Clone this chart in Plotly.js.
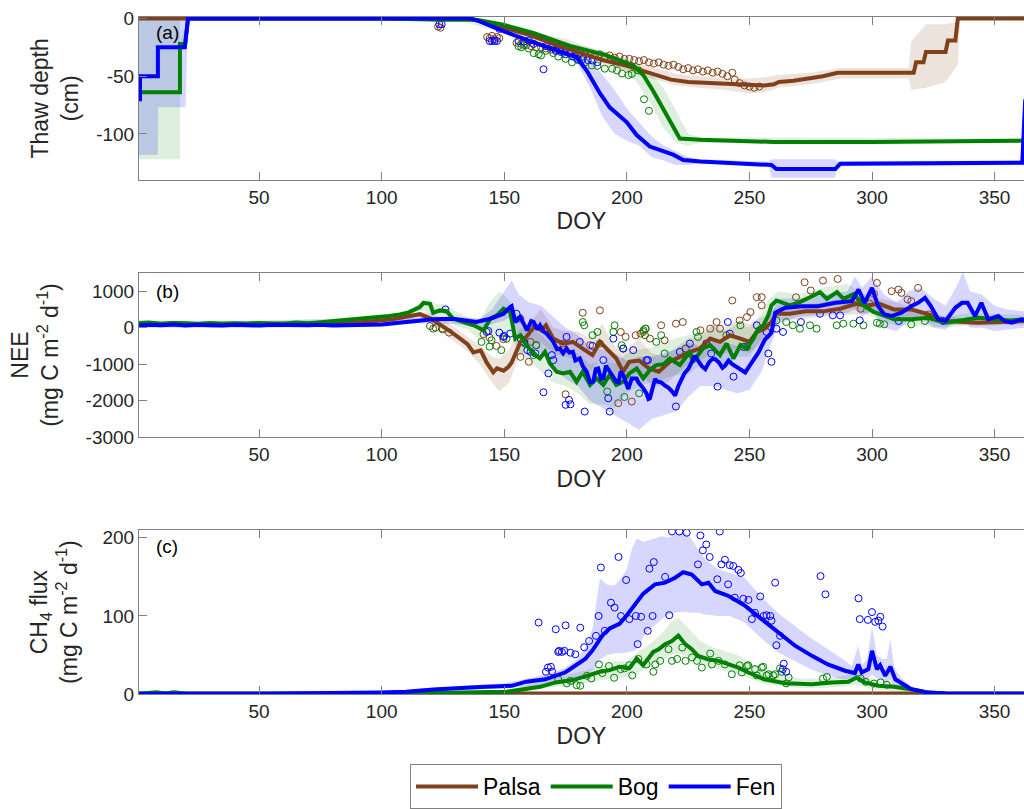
<!DOCTYPE html>
<html>
<head>
<meta charset="utf-8">
<script src="https://cdn.plot.ly/plotly-3.0.1.min.js"></script>
<style>html,body{margin:0;padding:0;background:#fff;}#chart{width:1024px;height:809px;}</style>
</head>
<body>
<div id="chart"></div>
<script>
// ---------------- Panel (a): thaw depth (cm) ----------------
const thawPalsaX = [1, 20, 120, 136, 150, 160, 170, 180, 190, 200, 210, 218, 225, 235, 245, 256, 260, 262, 268, 275, 280, 286, 300, 317, 318, 321, 322, 330, 331, 334, 335, 362];
const thawPalsaY = [0, 0, 0, 0, -8, -14, -22, -29, -36, -41, -48, -53, -55, -56, -57, -58, -57, -55, -54, -52, -50, -47, -47, -47, -38, -38, -29, -29, -19, -19, 0, 0];
const thawBogX = [1, 17.7, 17.7, 19.8, 21, 100, 125, 138.7, 149.6, 161.8, 176.8, 191.7, 202.6, 206.7, 210.8, 216.2, 221.6, 230, 260, 300, 362];
const thawBogY = [-64, -64, -22, -22, 0, 0, -1, -1, -5.4, -12.4, -23.7, -32, -40.7, -49, -63, -83, -104, -105, -107, -107, -106];
const thawFenX = [1, 1.4, 1.4, 8.7, 8.7, 19.7, 21, 136, 140, 149.6, 160.5, 170, 179.5, 183.6, 189, 193, 200, 204, 209.4, 218.9, 223, 230, 259, 261, 285, 287, 361.3, 362.5];
const thawFenY = [-70, -70, -50, -50, -25, -25, 0, 0, -2.5, -11, -19.5, -26.5, -33.6, -45, -64.7, -77, -90, -101, -111, -118, -122.6, -124, -127, -130.5, -130.5, -126, -125, -70];

const thawBandPalsaX = [1, 135, 150, 175, 200, 220, 240, 250, 256, 262, 275, 287, 300, 315, 316, 322, 330, 335, 336, 362];
const thawBandPalsaHi = [0, 0, -5, -18, -36, -48, -52, -52, -51, -49, -47, -43, -43, -43, -20, -5, -5, -3, 0, 0];
const thawBandPalsaLo = [0, 0, -10, -28, -46, -58, -62, -65, -64, -60, -57, -52, -52, -52, -62, -60, -55, -40, 0, 0];
const thawBandBogX = [1, 17.7, 17.8, 21, 130, 190, 200, 205, 210, 215, 220, 225, 230, 362];
const thawBandBogHi = [0, 0, -20, 0, 0, -28, -35, -40, -48, -60, -80, -100, -103, -104];
const thawBandBogLo = [-122, -122, -28, 0, -1, -36, -45, -58, -75, -95, -108, -110, -108, -108];
const thawBandFenX = [1, 8.7, 8.8, 20, 21, 135, 175, 180, 185, 190, 195, 200, 205, 210, 215, 220, 225, 230, 258, 259, 285, 286, 362];
const thawBandFenHi = [0, 0, 0, 0, 0, 0, -28, -30, -35, -48, -62, -78, -90, -102, -110, -115, -120, -122, -124, -122, -122, -124, -123];
const thawBandFenLo = [-118, -118, -77, -77, 0, 0, -33, -40, -60, -85, -100, -106, -110, -120, -123, -127, -127, -126, -128, -138, -138, -128, -127];

const thawObsPalsaX = [123, 124, 143, 144, 145, 146, 147, 148, 155, 157, 159, 161, 163, 165, 167, 169, 171, 173, 175, 177, 179, 181, 183, 185, 187, 189, 191, 193, 195, 197, 199, 201, 203, 205, 207, 209, 211, 213, 215, 217, 219, 221, 223, 225, 227, 229, 231, 233, 235, 237, 239, 241, 243, 244, 246, 248, 250, 252, 254];
const thawObsPalsaY = [-7, -8, -16, -17, -15, -18, -16, -17, -21, -22, -23, -24, -25, -25, -26, -27, -27, -28, -28, -29, -29, -30, -31, -31, -32, -31, -33, -32, -34, -33, -35, -35, -36, -37, -36, -38, -39, -38, -40, -41, -40, -42, -44, -43, -45, -44, -46, -45, -47, -46, -48, -50, -47, -53, -56, -58, -59, -60, -59];
const thawObsBogX = [155.8, 157, 158, 160, 162, 164, 165, 167, 170, 172, 175, 177.6, 180, 183, 185.7, 188, 191, 194, 196, 198, 200.7, 202, 204.7, 207, 209];
const thawObsBogY = [-24, -25, -23, -26, -30, -31, -32, -28, -30, -33, -35, -38, -36, -38, -40.7, -41, -43.5, -43.5, -45, -47.7, -49, -48, -45, -70, -80];
const thawObsFenX = [123.5, 124.5, 144, 145, 146, 147, 148, 155.8, 158, 160, 162, 166, 167, 169.4, 171, 173, 175, 178, 180, 182, 184, 186, 188];
const thawObsFenY = [-5, -5, -19.5, -19.5, -19.5, -19.5, -9, -19.5, -20, -19, -22, -44, -24, -25, -28, -29, -31, -33, -35, -35, -36, -36.4, -37.9];

// ---------------- Panel (b): NEE (mg C m-2 d-1) ----------------
const neePalsaX = [1, 5, 10, 15, 20, 25, 30, 35, 40, 45, 50, 55, 60, 65, 70, 75, 80, 85, 90, 95, 100, 105, 110, 115.6, 120, 124, 128, 132, 135, 137.4, 140.4, 142.8, 145.5, 147, 149.7, 151.7, 153, 156.6, 159, 162.6, 165, 167, 170, 174, 178, 182, 186, 189, 191.6, 195.7, 198.5, 201, 205, 209, 213, 217.5, 221.6, 225.7, 229.8, 234, 238, 242, 246.3, 250, 253, 256.3, 259, 261, 266.5, 273, 280, 287, 293.6, 297.7, 303, 309, 316, 323, 329.8, 336, 343, 350, 356, 362];
const neePalsaY = [100, 110, 90, 120, 100, 95, 110, 90, 100, 105, 95, 100, 110, 95, 100, 110, 105, 120, 140, 160, 200, 240, 300, 370, 250, 80, -100, -300, -450, -680, -620, -954, -1226, -1117, -1180, -1071, -954, -390, -253, 65, -71, 65, -300, -436, -390, -572, -752, -390, -572, -845, -1207, -935, -900, -1117, -1207, -935, -800, -663, -572, -300, -390, -207, -300, -390, -117, -27, 155, 381, 381, 447, 447, 518, 654, 610, 654, 500, 500, 365, 183, 160, 136, 150, 170, 183];
const neeBogX = [1, 5, 10, 15, 20, 25, 30, 35, 40, 45, 50, 55, 60, 65, 70, 75, 80, 85, 90, 95, 99, 103, 107.4, 111, 115.6, 117, 119.7, 121, 123.8, 126.5, 129.2, 133.4, 137.5, 141.6, 144.3, 147, 149.7, 152.4, 154.5, 156.6, 159, 162, 164.5, 166.6, 168.6, 171.4, 174, 176.8, 179.5, 182, 185, 187.6, 190.4, 193, 195.7, 198.5, 201, 204, 206.7, 209.4, 212, 215, 217.5, 221.6, 225.7, 227, 231, 234, 238, 240.7, 243.5, 246.3, 249, 251.6, 253.6, 255.7, 257.7, 259, 261, 266.5, 270.6, 274.7, 278.8, 281.6, 285.7, 288.4, 292.6, 296.6, 300.8, 303, 309, 316, 323, 329.8, 336, 343.4, 350, 356, 362];
const neeBogY = [130, 140, 110, 130, 120, 100, 130, 110, 120, 110, 130, 120, 110, 140, 120, 150, 180, 200, 220, 250, 273, 320, 365, 420, 564, 680, 654, 410, 474, 455, 245, 155, 65, -71, 245, 338, 518, 428, -300, -207, -480, -708, -845, -662, -980, -1207, -1253, -1207, -1480, -1207, -1570, -1390, -1570, -1297, -1570, -1480, -1253, -1117, -1390, -1160, -1025, -1000, -845, -1025, -662, -935, -572, -480, -752, -436, -845, -480, -572, -300, -27, 65, 338, 610, 746, 610, 700, 836, 973, 790, 973, 790, 926, 610, 428, 381, 229, 229, 273, 136, 200, 273, 229, 200, 229];
const neeFenX = [1, 5, 10, 15, 20, 25, 30, 35, 40, 45, 50, 55, 60, 65, 70, 75, 80, 85, 90, 95, 100, 105, 110, 115.6, 121, 129, 137, 138.6, 144.3, 149.7, 152.4, 153, 154.5, 156.6, 158, 159.3, 161, 162, 163.5, 164.6, 166, 167.3, 169, 170, 171.5, 172.7, 174, 175.4, 176.5, 178, 179, 180.8, 182, 183.6, 185, 186.3, 187.3, 188.3, 189.5, 190.4, 191.5, 193, 194, 195.7, 196.6, 197.5, 198.5, 200, 200.6, 202, 204, 204.7, 206, 206.7, 208, 208.8, 209.4, 210.5, 211.5, 212.5, 214, 215.6, 217, 218.5, 219.7, 221, 222.4, 223.5, 225, 226.5, 227.8, 229, 230.5, 232, 233.5, 235, 236, 237.5, 239, 240, 241.5, 243, 244.2, 245.5, 247, 248.3, 249.5, 251, 252.5, 253.7, 255, 256.4, 257.5, 259, 260.5, 264.6, 271.4, 278, 285, 291.8, 294.5, 297, 300, 302.5, 305, 308, 312, 316, 318.8, 321.6, 324, 327, 330, 334, 336.7, 339, 342, 344.6, 347.4, 351.5, 354, 357, 361, 362];
const neeFenY = [60, 80, 70, 90, 60, 80, 70, 60, 80, 70, 60, 80, 70, 60, 70, 80, 60, 70, 80, 70, 90, 120, 150, 200, 229, 245, 183, 155, 245, 382, 564, 590, 155, 292, 100, -71, 183, 155, -50, 65, -100, -163, -300, -390, -589, -572, -700, -572, -680, -662, -900, -845, -1050, -1207, -1500, -1480, -1135, -1117, -1407, -1390, -1044, -1207, -1300, -1480, -1500, -1200, -1297, -1616, -1680, -1390, -1390, -1500, -1600, -1662, -1800, -1953, -1935, -1600, -1407, -1480, -1500, -1590, -1650, -1750, -1860, -1600, -1407, -1250, -1135, -950, -771, -900, -1050, -1135, -950, -850, -862, -950, -1100, -1044, -900, -1000, -1044, -1100, -1150, -1226, -1100, -954, -800, -680, -500, -317, -250, -136, 409, 545, 590, 590, 681, 727, 1046, 681, 1090, 590, 365, 319, 409, 590, 681, 817, 590, 229, 183, 545, 681, 681, 319, 681, 229, 319, 183, 136, 229, 200];

const neeBandPalsaX = [1, 50, 100, 110, 115, 120, 125, 130, 135, 140, 145, 148, 152, 156, 160, 165, 170, 175, 180, 185, 190, 195, 200, 205, 210, 215, 220, 225, 230, 235, 240, 245, 250, 255, 258, 262, 270, 280, 290, 300, 310, 320, 330, 340, 362];
const neeBandPalsaHi = [180, 180, 260, 330, 430, 400, 250, 0, -250, -500, -800, -850, -600, -50, 100, 500, 0, -100, -100, -300, 100, -500, -600, -300, -700, -800, -550, -300, -250, 100, 0, 200, 100, 300, 400, 600, 600, 700, 800, 850, 700, 500, 300, 250, 250];
const neeBandPalsaLo = [20, 20, 100, 180, 280, 100, -150, -400, -650, -1000, -1500, -1750, -1500, -800, -500, -400, -700, -800, -900, -1200, -800, -1300, -1500, -1200, -1600, -1600, -1300, -1000, -900, -700, -700, -600, -700, -400, -200, 200, 250, 300, 350, 400, 300, 200, 80, 50, 80];
const neeBandBogX = [1, 50, 80, 100, 110, 115, 118, 122, 126, 130, 135, 140, 144, 148, 152, 156, 160, 165, 170, 175, 180, 185, 190, 195, 200, 205, 210, 215, 220, 225, 230, 235, 240, 245, 250, 255, 258, 262, 270, 280, 290, 300, 310, 320, 330, 340, 362];
const neeBandBogHi = [200, 200, 250, 320, 450, 650, 800, 650, 650, 450, 300, 200, 700, 1000, 750, 200, 0, -200, -500, -700, -700, -1000, -900, -1000, -700, -600, -550, -400, -300, -200, -150, 50, -100, 100, 0, 400, 800, 1000, 900, 1100, 1200, 800, 500, 450, 300, 400, 350];
const neeBandBogLo = [60, 60, 100, 180, 300, 450, 450, 200, 250, 50, -50, -350, -200, -300, -100, -700, -900, -1200, -1500, -1600, -1800, -2100, -2100, -2200, -1800, -1600, -1500, -1400, -1300, -1300, -1000, -900, -1100, -800, -800, -300, 200, 400, 400, 600, 600, 300, 50, 50, 0, 100, 100];
const neeBandFenX = [1, 50, 100, 115, 130, 140, 145, 150, 153, 156, 160, 165, 170, 175, 180, 185, 190, 195, 200, 205, 210, 215, 220, 225, 230, 235, 240, 245, 250, 255, 258, 262, 270, 280, 290, 293, 296, 300, 305, 310, 315, 320, 325, 330, 335, 337, 340, 345, 350, 355, 362];
const neeBandFenHi = [150, 150, 170, 280, 300, 250, 500, 1000, 1300, 900, 700, 600, 300, 0, -200, -500, -600, -700, -900, -800, -800, -700, -600, -400, -500, -300, -400, -500, -450, 0, 300, 800, 800, 900, 1000, 1400, 1100, 1400, 900, 700, 1000, 1100, 800, 600, 1200, 1550, 1000, 900, 600, 500, 450];
const neeBandFenLo = [0, 0, 30, 120, 100, 0, 100, 200, 300, -300, -500, -700, -1000, -1400, -1600, -2000, -2200, -2400, -2600, -2800, -2500, -2400, -2300, -1900, -1600, -1600, -1700, -1800, -1700, -1200, -600, 100, 300, 350, 400, 500, 300, 500, 0, -100, 200, 300, 0, -50, 200, 300, 0, 0, -100, -50, 0];

const neeObsPalsaX = [119.7, 122, 124.8, 127.5, 141.5, 144, 146.8, 149.6, 156.6, 156.6, 160, 160.7, 160.7, 163, 175, 182, 189, 185, 174, 197.5, 199.5, 203.6, 205.6, 207.7, 209.4, 196.5, 202, 206.7, 214, 215.4, 220, 222.8, 224, 230, 234, 236.6, 238, 243, 246, 249, 250.4, 253, 255, 255, 269, 272.5, 275, 280, 286, 292.6, 295.4, 299, 300.8, 302, 308, 310.8, 312, 314.5, 316, 318.8, 323];
const neeObsPalsaY = [46, 0, -45, -136, -180, -272, -500, -316, 245, -800, -935, -390, -27, -480, -1826, 409, 474, -480, -436, -117, -253, -207, -163, -27, -300, -2070, -2025, -117, 65, -345, 110, 155, -572, -71, -27, 155, -27, 746, 200, 292, 428, 836, 836, 610, 836, 1245, 1019, 1291, 1335, 790, 518, 654, 926, 1226, 1000, 1046, 954, 773, 727, 1090, 365];
const neeObsBogX = [121, 124.8, 140.7, 144, 144.8, 148.8, 150.9, 158.4, 161.9, 163, 182, 182.6, 186, 188, 189, 192, 195, 194.5, 197.9, 198.5, 199, 205, 206.8, 207.4, 212, 207.6, 214, 215.4, 228.4, 229, 240.6, 246.3, 249, 261, 265, 267.7, 270.6, 274.7, 277.4, 285.6, 288.3, 292.4, 296.5, 303.2, 302, 305, 316, 321.6];
const neeObsBogY = [-27, -27, -390, -518, -345, -616, -300, -436, -752, -480, 155, 65, -207, -117, -436, -1750, 65, -117, -480, -572, -1900, -1800, -71, -207, -390, -27, -207, -708, -117, -253, -207, 65, -526, 200, 155, 65, -27, 65, -27, 65, 110, 110, 65, 110, 136, 91, 91, 183];
const neeObsFenX = [126, 143.5, 148, 150, 142.8, 149.6, 152.4, 155, 156.6, 158, 159.4, 160.7, 162.7, 166, 168, 169.4, 170, 175.4, 175, 176.4, 177, 180.8, 182.8, 186, 190.4, 192.4, 193, 194.5, 198.5, 202.6, 208, 208.6, 220, 221.6, 225.7, 232.4, 234.4, 237, 241.2, 242, 243.5, 247.6, 253, 257, 257.7, 259, 261, 263.7, 271, 278.8, 284, 287, 295, 310.9, 329];
const neeObsFenY = [500, -90, -136, -226, -117, -253, -163, 382, -300, -390, -616, -662, -708, -1771, -1253, -752, -889, -253, -2115, -1980, -2100, -390, -2300, -500, -889, -1935, -2300, -300, -572, -616, -889, -889, -2160, -662, -436, -436, -708, -1616, 155, -163, -1343, -526, 65, -117, -708, -935, -27, -117, 155, 381, 338, 338, 200, 183, 183];

// ---------------- Panel (c): CH4 flux (mg C m-2 d-1) ----------------
const ch4PalsaX = [1, 100, 150, 200, 250, 300, 362];
const ch4PalsaY = [1, 1, 1.5, 2, 2, 1.5, 1];
const ch4BogX = [1, 5, 8, 12, 15, 20, 30, 50, 100, 120, 135, 151, 164.6, 171, 178, 185, 189, 193, 197, 201, 204, 206.6, 210.8, 213, 215.6, 218.4, 221, 223.8, 226.5, 229, 233, 237.4, 241.5, 245.5, 249.6, 256, 264.6, 275.5, 283.6, 290.4, 293.8, 297, 302.5, 309, 316, 323, 330, 362];
const ch4BogY = [0.5, 1, 2.5, 1, 2.5, 1, 0.5, 0.5, 0.5, 1, 2, 3, 9.4, 15, 18, 24, 28.6, 30.7, 35, 33, 45.6, 37, 54, 57.5, 64, 68, 75, 64, 57.5, 49, 44.7, 42.6, 38, 34, 27.7, 19, 14, 12.8, 15, 15.8, 21.3, 15, 10.7, 9.4, 6.4, 2, 1, 0.5];
const ch4FenX = [1, 50, 99, 110, 121, 130, 140, 148, 153, 159, 166.7, 175, 180, 183, 186, 190, 193, 197, 200, 204, 206.7, 211.5, 215.6, 219.7, 223, 226.5, 230.6, 233.3, 236, 241.5, 248.3, 255, 262, 268.6, 275.5, 282, 289, 293, 294.4, 295.8, 298.5, 300, 302, 303.3, 305.4, 307.5, 309.5, 316, 323, 330, 362];
const ch4FenY = [0.5, 0.5, 2, 3, 6, 8, 9, 10, 10.7, 16, 19, 28, 38, 45, 56, 75, 84, 90, 101, 118, 128.6, 140.5, 142.6, 149, 156, 153, 140.5, 142.6, 132, 125.6, 113, 96, 79, 62, 49, 38, 30, 27, 38, 27.7, 32, 55.4, 32, 37, 23.5, 35, 19, 6.4, 2, 1, 0.5];

const ch4BandBogX = [1, 100, 150, 160, 170, 180, 185, 190, 195, 200, 205, 210, 215, 218, 221, 225, 230, 235, 240, 245, 250, 255, 260, 270, 280, 290, 293, 296, 300, 305, 310, 320, 330, 362];
const ch4BandBogHi = [1.5, 1.5, 5, 12, 20, 28, 32, 36, 42, 42, 55, 65, 80, 92, 98, 85, 68, 60, 55, 50, 42, 32, 28, 20, 20, 24, 30, 22, 18, 16, 13, 5, 2, 1];
const ch4BandBogLo = [0, 0, 1, 5, 9, 12, 16, 18, 20, 22, 28, 35, 45, 50, 52, 48, 38, 34, 30, 26, 20, 14, 11, 8, 8, 10, 12, 10, 6, 5, 4, 1, 0, 0];
const ch4BandFenX = [1, 100, 120, 140, 150, 160, 170, 175, 180, 183, 186, 189, 192, 195, 198, 200, 202, 204, 207, 210, 214, 217, 221, 224, 226.5, 229, 232, 237, 242, 248, 252, 256, 262, 268.6, 275, 282, 288, 291.7, 294.4, 296, 298, 300, 302, 304, 306, 307.5, 309, 312, 316, 323, 362];
const ch4BandFenHi = [1, 3, 8, 12, 14, 20, 28, 34, 45, 60, 84, 148, 140, 139, 150, 160, 185, 199, 195, 198, 202, 200, 206, 206, 198, 185, 172, 160, 155, 149, 135, 121, 103, 87, 72, 57.5, 45, 36, 62, 38, 45, 87, 50, 45, 45, 70, 35, 20, 10, 3, 1];
const ch4BandFenLo = [0, 1, 4, 6, 7, 10, 14, 18, 22, 26, 30, 45, 50, 52, 53, 53, 55, 57, 75, 85, 95, 102, 105, 105, 104, 104, 102, 100, 100, 91.6, 80, 68, 53, 42, 32, 24, 19, 18, 22, 17, 18, 25, 20, 18, 14, 18, 10, 5, 3, 1, 0];

const ch4ObsBogX = [172, 177, 181, 183.7, 188.6, 192.7, 194.8, 197.5, 199, 201, 202.2, 204.7, 208, 210.8, 211.6, 213.6, 217, 218.4, 220.5, 222.6, 223.9, 226.6, 228.6, 230.6, 234, 234.7, 237.4, 240, 242.8, 246, 246.9, 249, 249.5, 252.3, 253, 255, 255.6, 257, 257.8, 259.7, 260.5, 262.5, 263.2, 265, 266, 280, 281.6, 295.4, 297.4, 300.8, 303.5, 306, 175.5, 179.5, 185.5, 190];
const ch4ObsBogY = [19, 17, 10.7, 23.5, 38, 36, 21, 32, 33, 37, 24, 45, 38, 28.6, 38, 42.6, 57.5, 42.6, 45, 59.6, 42.6, 47, 42.6, 34, 52, 38, 42.6, 38, 25.5, 37, 27.7, 36, 37, 32, 24, 34, 35, 24, 25.5, 24, 25.5, 33, 28.6, 13.7, 21.3, 20, 22, 20, 15.8, 13.7, 15, 12, 13.7, 11.5, 20, 27];
const ch4ObsFenX = [164, 167.8, 169, 171, 172.4, 174.5, 175, 177, 179, 181, 182.6, 184.6, 187.4, 188.5, 189.4, 191, 193.5, 195, 196.6, 197.6, 199.7, 201, 203.7, 204.4, 205.8, 208.5, 209.2, 210.5, 211, 215.6, 217.3, 218.4, 221.4, 224.4, 229, 230, 231, 232.4, 233.8, 236.9, 237.9, 238.6, 240, 241.3, 242, 243.4, 244, 245.5, 246.5, 247.5, 249.6, 251, 252.3, 254.4, 255.8, 257, 258.5, 259, 260.5, 262.5, 261, 264, 263.6, 265, 279, 281, 294.5, 295, 298.3, 300, 301.3, 302.6, 303.4, 304.3, 167, 169.5, 172, 173.5];
const ch4ObsFenY = [91.6, 34, 35, 83, 55.4, 55.4, 88, 53, 51, 85, 60, 68, 74.6, 100, 162, 81, 117, 110.7, 175.5, 100, 146, 96, 100, 64, 99, 81, 160.5, 100, 169, 150, 101, 208, 208, 206.5, 166, 203, 184, 191.5, 175.5, 147, 208, 166, 172, 140.5, 165, 164, 123.5, 159, 155, 122, 120.6, 96, 104, 125, 100, 101, 100, 94, 142.6, 74.6, 62.6, 39, 32, 28.6, 151, 127.7, 122.6, 96, 95, 105, 92.5, 94, 99, 86.5, 28.6, 29, 54, 54];

// ---------------- Axis ticks and labels ----------------
const doyTicks = [50, 100, 150, 200, 250, 300, 350];
const thawTicks = [-100, -50, 0];
const thawTickText = ['-100', '-50', '0'];
const neeTicks = [-3000, -2000, -1000, 0, 1000];
const neeTickText = ['-3000', '-2000', '-1000', '0', '1000'];
const ch4Ticks = [0, 100, 200];
const ch4TickText = ['0', '100', '200'];

// ---------------- Styling ----------------
const FONT = 'Liberation Sans, Arial, Helvetica, sans-serif';
const COL = {Palsa: 'rgb(128,64,26)', Bog: 'rgb(0,128,0)', Fen: 'rgb(0,0,255)'};
const FILL = {Palsa: 'rgba(128,64,26,0.15)', Bog: 'rgba(0,128,0,0.13)', Fen: 'rgba(0,0,255,0.16)'};

function band(x, lo, hi, site, xa, ya) {
  return {x: x.concat(x.slice().reverse()), y: hi.concat(lo.slice().reverse()),
    type: 'scatter', mode: 'lines', fill: 'toself', fillcolor: FILL[site],
    line: {width: 0, color: FILL[site]}, hoverinfo: 'skip', showlegend: false, xaxis: xa, yaxis: ya};
}
function pts(x, y, site, xa, ya) {
  return {x: x, y: y, type: 'scatter', mode: 'markers', showlegend: false, xaxis: xa, yaxis: ya,
    marker: {symbol: 'circle-open', size: 7, color: COL[site], line: {width: 1, color: COL[site]}}};
}
function line(x, y, site, xa, ya, legend) {
  return {x: x, y: y, type: 'scatter', mode: 'lines', name: site, legendgroup: site,
    showlegend: !!legend, xaxis: xa, yaxis: ya, line: {color: COL[site], width: 4}};
}

const data = [
  band(thawBandPalsaX, thawBandPalsaLo, thawBandPalsaHi, 'Palsa', 'x', 'y'),
  band(thawBandBogX, thawBandBogLo, thawBandBogHi, 'Bog', 'x', 'y'),
  band(thawBandFenX, thawBandFenLo, thawBandFenHi, 'Fen', 'x', 'y'),
  pts(thawObsPalsaX, thawObsPalsaY, 'Palsa', 'x', 'y'),
  pts(thawObsBogX, thawObsBogY, 'Bog', 'x', 'y'),
  pts(thawObsFenX, thawObsFenY, 'Fen', 'x', 'y'),
  line(thawPalsaX, thawPalsaY, 'Palsa', 'x', 'y', true),
  line(thawBogX, thawBogY, 'Bog', 'x', 'y', true),
  line(thawFenX, thawFenY, 'Fen', 'x', 'y', true),

  band(neeBandPalsaX, neeBandPalsaLo, neeBandPalsaHi, 'Palsa', 'x2', 'y2'),
  band(neeBandBogX, neeBandBogLo, neeBandBogHi, 'Bog', 'x2', 'y2'),
  band(neeBandFenX, neeBandFenLo, neeBandFenHi, 'Fen', 'x2', 'y2'),
  pts(neeObsPalsaX, neeObsPalsaY, 'Palsa', 'x2', 'y2'),
  pts(neeObsBogX, neeObsBogY, 'Bog', 'x2', 'y2'),
  pts(neeObsFenX, neeObsFenY, 'Fen', 'x2', 'y2'),
  line(neePalsaX, neePalsaY, 'Palsa', 'x2', 'y2'),
  line(neeBogX, neeBogY, 'Bog', 'x2', 'y2'),
  line(neeFenX, neeFenY, 'Fen', 'x2', 'y2'),

  band(ch4BandBogX, ch4BandBogLo, ch4BandBogHi, 'Bog', 'x3', 'y3'),
  band(ch4BandFenX, ch4BandFenLo, ch4BandFenHi, 'Fen', 'x3', 'y3'),
  pts(ch4ObsBogX, ch4ObsBogY, 'Bog', 'x3', 'y3'),
  pts(ch4ObsFenX, ch4ObsFenY, 'Fen', 'x3', 'y3'),
  line(ch4PalsaX, ch4PalsaY, 'Palsa', 'x3', 'y3'),
  line(ch4BogX, ch4BogY, 'Bog', 'x3', 'y3'),
  line(ch4FenX, ch4FenY, 'Fen', 'x3', 'y3')
];

const AXC = 'rgb(128,128,128)';
const TXT = 'rgb(38,38,38)';
function xax(anchor) {
  return {domain: [139/1024, 1], range: [1, 362], anchor: anchor, tickvals: doyTicks,
    ticks: 'inside', ticklen: 8, tickcolor: AXC, showline: true, linecolor: AXC, linewidth: 1,
    mirror: 'ticks', showgrid: false, zeroline: false,
    tickfont: {family: FONT, size: 19, color: TXT},
    title: {text: 'DOY', font: {family: FONT, size: 23, color: TXT}, standoff: 6}};
}
function yax(anchor, dom, range, ticks, labels, title, standoff) {
  return {domain: dom, range: range, anchor: anchor, tickvals: ticks, ticktext: labels, tickmode: 'array',
    ticks: 'inside', ticklen: 8, tickcolor: AXC, showline: true, linecolor: AXC, linewidth: 1,
    mirror: false, showgrid: false, zeroline: false,
    tickfont: {family: FONT, size: 19, color: TXT},
    title: {text: title, font: {family: FONT, size: 23, color: TXT}, standoff: standoff}};
}

function panelLabel(t, ypx) {
  return {text: t, xref: 'paper', yref: 'paper', x: 167/1024, y: (809 - ypx)/809,
    xanchor: 'center', yanchor: 'middle', showarrow: false, font: {family: FONT, size: 19, color: '#000'}};
}

const layout = {
  width: 1024, height: 809, margin: {l: 0, r: 0, t: 0, b: 0},
  paper_bgcolor: '#fff', plot_bgcolor: '#fff', font: {family: FONT, color: TXT},
  xaxis: xax('y'), xaxis2: xax('y2'), xaxis3: xax('y3'),
  yaxis: yax('x', [0.7750, 0.9790], [-140, 1.5], thawTicks, thawTickText, 'Thaw depth<br>(cm)', 11),
  yaxis2: yax('x2', [0.4536, 0.6588], [-3000, 1500], neeTicks, neeTickText, 'NEE<br>(mg C m<sup>-2</sup> d<sup>-1</sup>)', 20),
  yaxis3: yax('x3', [0.1323, 0.3375], [0, 210], ch4Ticks, ch4TickText, 'CH<sub>4</sub> flux<br>(mg C m<sup>-2</sup> d<sup>-1</sup>)', 18),
  showlegend: true,
  legend: {orientation: 'h', x: 410/1024, xanchor: 'left', y: (809-773)/809, yanchor: 'top',
    bordercolor: AXC, borderwidth: 1, bgcolor: '#fff', itemwidth: 62,
    font: {family: FONT, size: 23, color: '#000'}, traceorder: 'normal'},
  annotations: [panelLabel('(a)', 33), panelLabel('(b)', 295), panelLabel('(c)', 553)]
};

Plotly.newPlot('chart', data, layout, {staticPlot: true, displayModeBar: false});
</script>
</body>
</html>
